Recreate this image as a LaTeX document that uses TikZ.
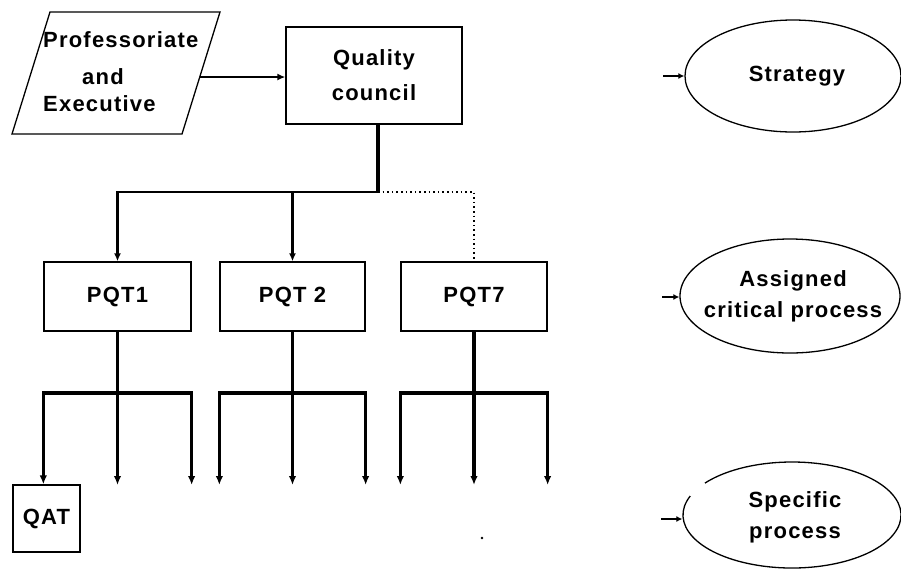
\documentclass[tikz,border=0pt]{standalone}
\usepackage{fontspec}
\setmainfont{Liberation Sans}[LetterSpace=5.5]
\usetikzlibrary{shapes.geometric,arrows.meta,calc}

\begin{document}
\begin{tikzpicture}[x=1pt,y=-1pt,
  every node/.style={font=\fontsize{22}{31}\selectfont\bfseries},
  box/.style={draw,line width=1.3pt,rectangle,inner sep=0pt,align=center},
  oval/.style={draw,line width=1.3pt,ellipse,inner sep=0pt},
  caption/.style={align=center,inner sep=0pt},
  outline/.style={line width=1.3pt},
  feed/.style={line width=2.8pt,-{Latex[length=8pt,width=7pt]}},
  drop/.style={line width=3.2pt,-{Latex[length=9pt,width=7.5pt]}},
  branch/.style={line width=3.2pt,line join=miter,{Latex[length=9pt,width=7.5pt]}-{Latex[length=9pt,width=7.5pt]}},
  tick/.style={line width=2.4pt,-{Latex[length=6pt,width=6pt]}},
  link/.style={line width=1.6pt,dash pattern=on 1.6pt off 3pt},
]
\useasboundingbox (0,0) rectangle (901,571);

% reference lines for the lower branching
\coordinate (busline) at (0,393);
\coordinate (tipline) at (0,485);

% executive body (parallelogram)
\coordinate (pa) at (50,12);
\coordinate (pb) at (220,12);
\coordinate (pc) at (182,134);
\coordinate (pd) at (12,134);
\draw[outline] (pa) -- (pb) -- (pc) -- (pd) -- cycle;
\node[align=left,inner sep=0pt,anchor=north west] (pe) at (43,31)
  {Professoriate\\[6pt]\hspace*{39pt}and\\[-4pt]Executive};
\coordinate (peR) at ($(pb)!0.533!(pc)$);

% quality council
\node[box,minimum width=176pt,minimum height=97pt] (qc) at (374,75.5)
  {Quality\\[4pt]council};
\draw[feed] (peR) -- (peR -| qc.west);

% process quality teams
\node[box,minimum width=147pt,minimum height=69pt] (pqt1) at (117.5,296.5) {PQT1};
\node[box,minimum width=145pt,minimum height=69pt] (pqt2) at (292.5,296.5) {PQT 2};
\node[box,minimum width=146pt,minimum height=69pt] (pqt7) at (474,296.5) {PQT7};

% council to teams
\coordinate (j) at (378,192);
\draw[line width=3.2pt] (j |- qc.south) -- (j);
\draw[feed,line join=miter] (j) -| (pqt1.north);
\draw[feed] (j -| pqt2.north) -- (pqt2.north);
\draw[link] (j) -| (pqt7.north);

% quality action team
\node[box,minimum width=67pt,minimum height=67pt] (qat) at (46.5,518.5) {QAT};

% branching below each team
\draw[branch] (qat.north -| pqt1.west) |- (pqt1.south |- busline)
  -| (pqt1.east |- tipline);
\draw[drop] (pqt1.south) -- (pqt1.south |- tipline);
\foreach \b in {pqt2,pqt7}{
  \draw[branch] (\b.west |- tipline) |- (\b.south |- busline)
    -| (\b.east |- tipline);
  \draw[drop] (\b.south) -- (\b.south |- tipline);
}
\fill (482,538) circle[radius=1.4pt];

% levels
\node[oval,minimum width=216pt,minimum height=112pt] (strat) at (793,76) {};
\node[caption] (stratT) at (797,76) {Strategy};
\node[oval,minimum width=220pt,minimum height=114pt] (acp) at (790,296) {};
\node[caption] (acpT) at (793,296) {Assigned\\critical process};
\node[oval,draw=none,minimum width=218pt,minimum height=106pt] (spec) at (792,515) {};
\node[caption] (specT) at (795,517) {Specific\\process};
\draw[outline] ([shift={(159:109pt and 53pt)}]spec.center)
  arc[start angle=159,end angle=503,x radius=109pt,y radius=53pt];

\coordinate (s1) at (663,76);
\coordinate (s2) at (662,297);
\coordinate (s3) at (661,519);
\draw[tick] (s1) -- (s1 -| strat.west);
\draw[tick] (s2) -- (s2 -| acp.west);
\draw[tick] (s3) -- (s3 -| spec.west);
\end{tikzpicture}
\end{document}
